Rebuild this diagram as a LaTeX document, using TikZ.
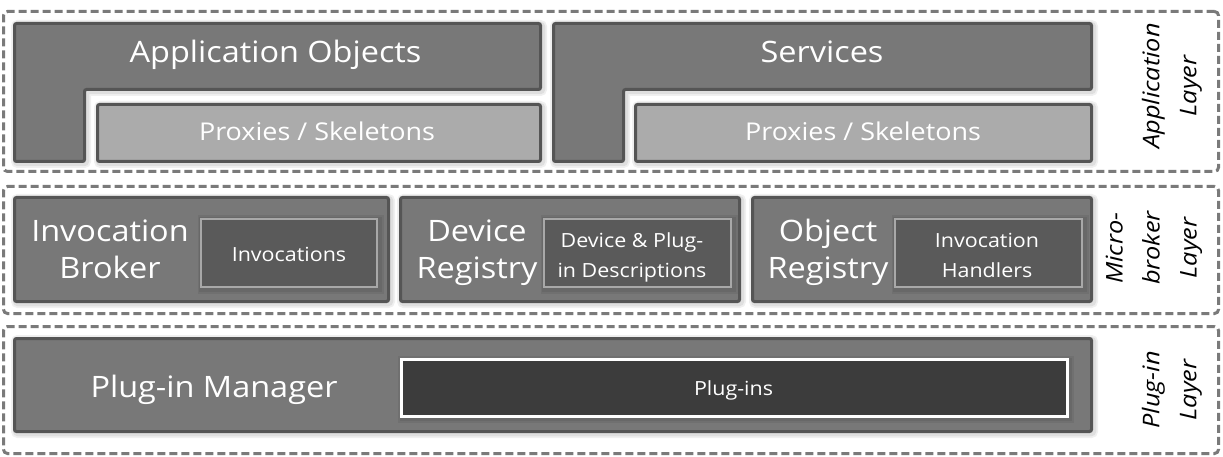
\documentclass[tikz,border=0pt]{standalone}
\usepackage{fontspec}
\setmainfont{Open Sans}[FakeStretch=1.1]
\definecolor{boxfill}{HTML}{787878}
\definecolor{boxline}{HTML}{555555}
\definecolor{proxfill}{HTML}{ABABAB}
\definecolor{innerfill}{HTML}{5A5A5A}
\definecolor{innerline}{HTML}{A8A8A8}
\definecolor{plugfill}{HTML}{3C3C3C}
\definecolor{dashcol}{HTML}{7A7A7A}
\begin{document}
\begin{tikzpicture}[x=1pt,y=-1pt,
  glow/.style={preaction={draw=black,draw opacity=0.06,line width=10pt,transform canvas={xshift=1.5pt,yshift=-1.5pt}},
               preaction={draw=black,draw opacity=0.07,line width=6.5pt,transform canvas={xshift=1.5pt,yshift=-1.5pt}}},
  layerbox/.style={draw=dashcol, line width=3pt, dash pattern=on 8pt off 4pt, rounded corners=4pt, inner sep=0pt},
  compbox/.style={glow, draw=boxline, line width=3pt, fill=boxfill, rounded corners=2pt, inner sep=0pt},
  proxbox/.style={glow, draw=boxline, line width=3pt, fill=proxfill, rounded corners=2pt, inner sep=0pt},
  innerbox/.style={glow, draw=innerline, line width=2pt, fill=innerfill, inner sep=0pt},
  plugbox/.style={glow, draw=white, line width=2.5pt, fill=plugfill, inner sep=0pt},
  bigtxt/.style={text=white, inner sep=0pt, anchor=base, align=center, font=\fontsize{29.5}{37}\selectfont},
  proxtxt/.style={text=white, inner sep=0pt, anchor=base, font=\fontsize{24.5}{30}\selectfont},
  smalltxt/.style={text=white, inner sep=0pt, anchor=base, align=center, font=\fontsize{19.5}{30}\selectfont},
  layertxt/.style={text=black, inner sep=0pt, rotate=90, align=center, font=\itshape\fontsize{23}{37}\selectfont}]
\useasboundingbox (0,0) rectangle (1223,457);
% layers
\node[layerbox, minimum width=1215pt, minimum height=160pt] (applayer) at (611,91.5) {};
\node[layerbox, minimum width=1215pt, minimum height=127pt] (mblayer) at (611,250) {};
\node[layerbox, minimum width=1215pt, minimum height=127pt] (pilayer) at (611,390) {};
% application layer
\draw[compbox] (14.5,23.5) -- (540.5,23.5) -- (540.5,89.5) -- (84.5,89.5) -- (84.5,161.5) -- (14.5,161.5) -- cycle;
\draw[compbox] (553.5,23.5) -- (1091.5,23.5) -- (1091.5,89.5) -- (623.5,89.5) -- (623.5,161.5) -- (553.5,161.5) -- cycle;
\node[proxbox, minimum width=443pt, minimum height=57pt] (prox1) at (319,133) {};
\node[proxbox, minimum width=456pt, minimum height=57pt] (prox2) at (863.5,133) {};
\node[bigtxt] (appobj) at (275.5,63) {Application Objects};
\node[bigtxt] (services) at (822,63) {Services};
\node[proxtxt] (prox1t) at (317,141) {Proxies / Skeletons};
\node[proxtxt] (prox2t) at (863,141) {Proxies / Skeletons};
% micro-broker layer
\node[compbox, minimum width=374pt, minimum height=104pt] (ib) at (201.5,249.5) {};
\node[innerbox, minimum width=176pt, minimum height=68pt] (inv) at (289,253) {};
\node[compbox, minimum width=339pt, minimum height=104pt] (dr) at (570,249.5) {};
\node[innerbox, minimum width=187pt, minimum height=68pt] (dpd) at (637.5,253) {};
\node[compbox, minimum width=339pt, minimum height=104pt] (objr) at (922,249.5) {};
\node[innerbox, minimum width=187pt, minimum height=68pt] (ih) at (988.5,253) {};
\node[bigtxt] (ibt) at (110,278) {Invocation\\Broker};
\node[bigtxt] (drt) at (477,278) {Device\\Registry};
\node[bigtxt] (objrt) at (828,278) {Object\\Registry};
\node[smalltxt] (invt) at (289,261) {Invocations};
\node[smalltxt] (dpdt) at (632,277) {Device \& Plug-\\in Descriptions};
\node[smalltxt] (iht) at (987,277) {Invocation\\Handlers};
% plug-in layer
\node[compbox, minimum width=1077pt, minimum height=93pt] (pm) at (553,385) {};
\node[plugbox, minimum width=666pt, minimum height=57pt] (pis) at (734.5,388) {};
\node[bigtxt] (pmt) at (214,397) {Plug-in Manager};
\node[smalltxt] (pist) at (733.5,395) {Plug-ins};
% layer labels
\node[layertxt] (applbl) at (1172,86) {Application\\Layer};
\node[layertxt] (mblbl) at (1154,248) {Micro-\\broker\\Layer};
\node[layertxt] (pilbl) at (1172,390) {Plug-in\\Layer};
\end{tikzpicture}
\end{document}
